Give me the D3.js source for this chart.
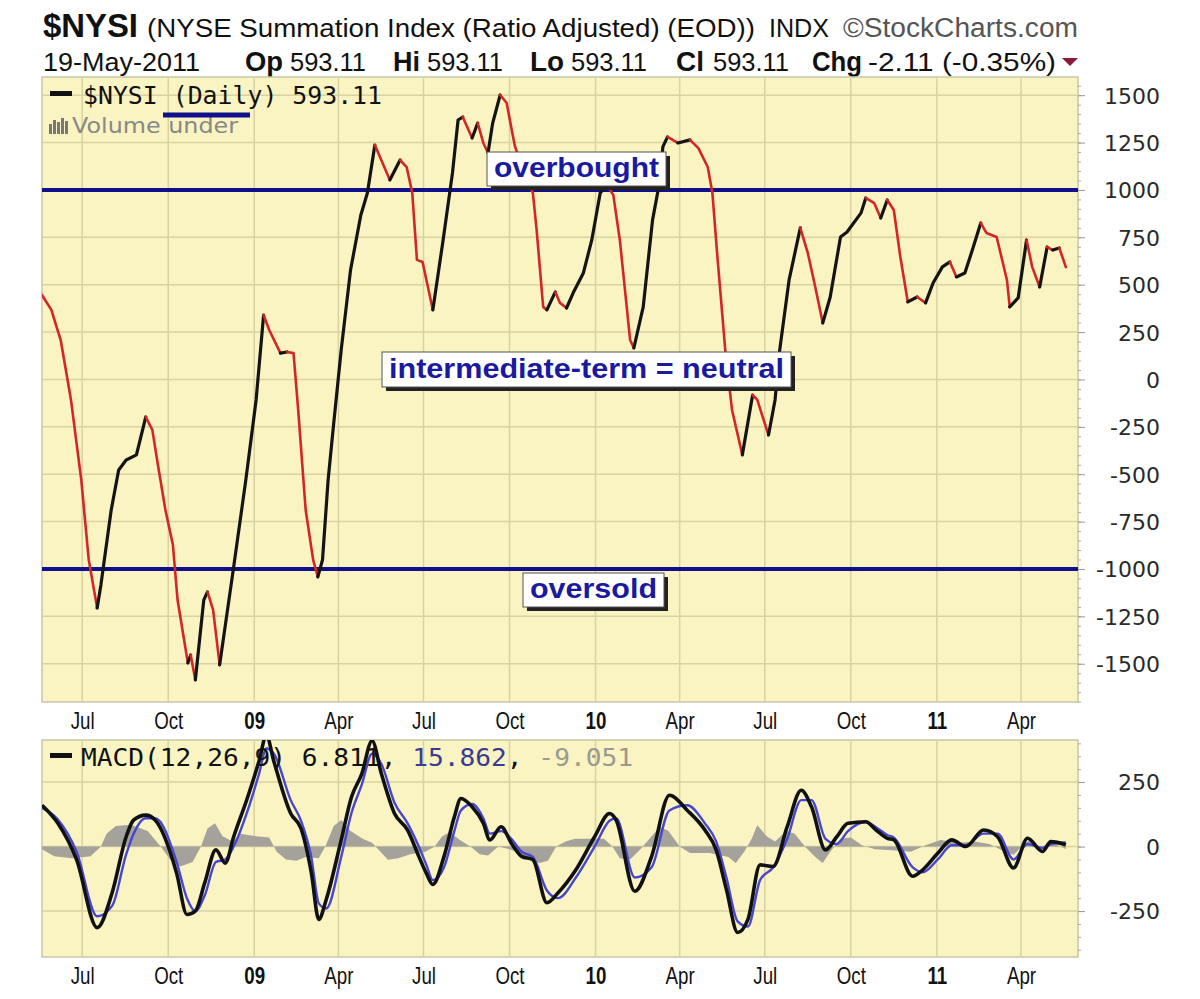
<!DOCTYPE html>
<html lang="en">
<head>
<meta charset="UTF-8" />
<title>$NYSI - NYSE Summation Index</title>
<script src="https://cdn.jsdelivr.net/npm/d3@7"></script>
<style>
  body { margin: 0; background: #fff; }
  svg { display: block; }
</style>
</head>
<body>
<div id="chart"></div>
<script>
// $NYSI daily values
const nysiDates = [
  "2008-05-19","2008-05-29","2008-06-08","2008-06-19","2008-06-30","2008-07-08","2008-07-17","2008-07-21",
  "2008-08-01","2008-08-09","2008-08-17","2008-08-28","2008-09-07","2008-09-14","2008-09-20","2008-09-28",
  "2008-10-06","2008-10-11","2008-10-22","2008-10-25","2008-10-30","2008-11-08","2008-11-12","2008-11-18",
  "2008-11-25","2008-12-10","2008-12-23","2009-01-03","2009-01-11","2009-01-17","2009-01-29","2009-02-05",
  "2009-02-12","2009-02-17","2009-02-25","2009-03-05","2009-03-10","2009-03-15","2009-03-21","2009-03-27",
  "2009-04-04","2009-04-14","2009-04-25","2009-05-02","2009-05-10","2009-05-26","2009-06-06","2009-06-13",
  "2009-06-19","2009-06-24","2009-06-30","2009-07-11","2009-07-22","2009-08-01","2009-08-07","2009-08-12",
  "2009-08-22","2009-08-28","2009-09-03","2009-09-08","2009-09-13","2009-09-21","2009-09-28","2009-10-04",
  "2009-10-07","2009-10-16","2009-10-26","2009-10-30","2009-11-06","2009-11-10","2009-11-19","2009-11-24",
  "2009-12-01","2009-12-08","2009-12-19","2009-12-28","2010-01-06","2010-01-13","2010-01-20","2010-01-27",
  "2010-02-07","2010-02-11","2010-02-21","2010-03-03","2010-03-11","2010-03-14","2010-03-19","2010-03-30",
  "2010-04-12","2010-04-21","2010-05-01","2010-05-06","2010-05-11","2010-05-20","2010-05-27","2010-06-07",
  "2010-06-18","2010-06-23","2010-07-05","2010-07-12","2010-07-17","2010-07-27","2010-08-08","2010-08-16",
  "2010-08-24","2010-09-01","2010-09-09","2010-09-20","2010-09-27","2010-10-12","2010-10-17","2010-10-26",
  "2010-11-02","2010-11-09","2010-11-16","2010-11-23","2010-12-01","2010-12-11","2010-12-20","2010-12-28",
  "2011-01-07","2011-01-15","2011-01-22","2011-01-31","2011-02-08","2011-02-17","2011-02-23","2011-03-06",
  "2011-03-17","2011-03-20","2011-03-29","2011-04-07","2011-04-13","2011-04-21","2011-04-29","2011-05-05",
  "2011-05-12","2011-05-19"
];
const nysiValues = [
  446, 367, 208, -108, -530, -952, -1206, -1084,
  -689, -478, -425, -398, -198, -266, -451, -689,
  -873, -1164, -1496, -1454, -1586, -1164, -1121, -1216,
  -1506, -989, -530, -108, 340, 261, 139, 145,
  139, -161, -689, -952, -1042, -952, -530, -230,
  156, 578, 868, 984, 1237, 1053, 1158, 1121,
  984, 631, 620, 367, 736, 1090, 1369, 1385,
  1274, 1353, 1248, 1195, 1353, 1501, 1459, 1300,
  1227, 1105, 984, 789, 383, 367, 462, 404,
  377, 456, 562, 736, 984, 1026, 974, 736,
  208, 166, 383, 842, 1053, 1227, 1280, 1248,
  1264, 1221, 1121, 984, 668, 140, -161, -398,
  -82, -108, -293, -108, 156, 525, 800, 668,
  488, 298, 435, 752, 778, 879, 958, 931,
  852, 947, 894, 646, 409, 435, 404, 509,
  594, 620, 541, 562, 683, 826, 773, 752,
  525, 383, 430, 736, 594, 488, 699, 683,
  694, 593
];

// MACD(12,26,9): macd line and signal line, same dates
const macdDates = [
  "2008-05-19","2008-06-05","2008-06-25","2008-07-17","2008-08-02","2008-08-17","2008-08-25","2008-09-07",
  "2008-09-17","2008-10-10","2008-10-21","2008-10-30","2008-11-09","2008-11-21","2008-12-01","2008-12-10",
  "2008-12-25","2009-01-06","2009-01-14","2009-01-22","2009-02-09","2009-02-20","2009-03-03","2009-03-11",
  "2009-03-19","2009-04-04","2009-04-15","2009-04-26","2009-05-07","2009-05-17","2009-05-31","2009-06-14",
  "2009-06-26","2009-07-04","2009-07-11","2009-07-23","2009-08-03","2009-08-10","2009-08-22","2009-09-03",
  "2009-09-10","2009-09-22","2009-10-03","2009-10-14","2009-10-26","2009-11-10","2009-11-22","2009-12-11",
  "2009-12-31","2010-01-16","2010-01-23","2010-02-12","2010-03-02","2010-03-21","2010-04-09","2010-04-28",
  "2010-05-10","2010-05-21","2010-06-02","2010-06-13","2010-06-26","2010-07-10","2010-07-25","2010-08-09",
  "2010-08-20","2010-09-04","2010-09-16","2010-09-28","2010-10-17","2010-10-28","2010-11-09","2010-11-16",
  "2010-12-06","2010-12-17","2011-01-02","2011-01-17","2011-02-01","2011-02-20","2011-03-07","2011-03-24",
  "2011-04-08","2011-04-24","2011-05-03","2011-05-19"
];
const macdValues = [
  160, 90, -51, -314, -179, 38, 103, 122,
  103, -103, -263, -250, -141, -13, -64, 38,
  192, 330, 430, 330, 128, 70, -100, -282,
  -205, 26, 192, 282, 410, 282, 128, 64,
  -38, -103, -147, -38, 115, 186, 154, 90,
  26, 77, 13, -38, -51, -218, -179, -90,
  38, 128, 103, -173, -38, 199, 141, 64,
  -13, -167, -333, -282, -71, -77, 77, 218,
  154, -13, 38, 90, 96, 64, 32, 26,
  -115, -90, -26, 26, 0, 64, 38, -83,
  32, -19, 19, 7
];
const signalValues = [
  150, 105, -20, -270, -230, -30, 50, 110,
  110, -60, -200, -250, -190, -60, -50, 0,
  140, 280, 380, 360, 180, 100, -40, -220,
  -240, -40, 130, 240, 360, 320, 170, 90,
  0, -70, -130, -80, 60, 140, 165, 110,
  50, 60, 30, -20, -40, -170, -200, -120,
  0, 100, 110, -120, -80, 140, 160, 90,
  20, -120, -290, -310, -130, -80, 30, 180,
  180, 30, 10, 60, 95, 75, 45, 35,
  -80, -100, -50, 5, 5, 50, 50, -50,
  10, -5, 10, 16
];

// MACD histogram (grey area)
const histDates = [
  "2008-05-19","2008-06-01","2008-06-20","2008-07-10","2008-07-21","2008-07-27","2008-08-06","2008-08-22",
  "2008-09-09","2008-09-23","2008-10-03","2008-10-14","2008-10-27","2008-11-05","2008-11-12","2008-11-20",
  "2008-11-28","2008-12-09","2008-12-17","2009-01-03","2009-01-17","2009-01-25","2009-02-04","2009-02-15",
  "2009-02-25","2009-03-11","2009-03-18","2009-03-27","2009-04-04","2009-04-14","2009-04-27","2009-05-07",
  "2009-05-16","2009-05-24","2009-06-04","2009-06-17","2009-07-03","2009-07-13","2009-07-21","2009-07-29",
  "2009-08-09","2009-08-22","2009-08-30","2009-09-08","2009-09-19","2009-10-01","2009-10-12","2009-10-23",
  "2009-11-02","2009-11-11","2009-11-20","2009-11-30","2009-12-10","2009-12-26","2010-01-10","2010-01-19",
  "2010-01-27","2010-02-07","2010-02-18","2010-03-02","2010-03-11","2010-03-20","2010-04-01","2010-04-12",
  "2010-05-03","2010-05-23","2010-05-31","2010-06-09","2010-06-17","2010-06-23","2010-07-03","2010-07-12",
  "2010-07-24","2010-08-02","2010-08-13","2010-08-24","2010-09-01","2010-09-09","2010-09-20","2010-10-01",
  "2010-10-13","2010-10-27","2010-11-18","2010-12-04","2010-12-20","2011-01-05","2011-01-26","2011-02-10",
  "2011-02-26","2011-03-15","2011-03-24","2011-04-02","2011-04-10","2011-04-23","2011-05-04","2011-05-19"
];
const histValues = [
  -10, -38, -45, -38, 0, 50, 80, 85,
  60, 0, -50, -77, -60, 0, 70, 90,
  40, 20, 50, 40, 35, -20, -50, -55,
  -40, -45, 0, 80, 103, 60, 30, 15,
  -20, -51, -45, -30, -20, 0, 40, 55,
  25, -5, -30, -35, 0, -10, -25, -50,
  -64, -55, 0, 20, 30, 30, 30, 0,
  -45, -50, -10, 40, 77, 60, 0, -25,
  -25, -40, -64, -20, 30, 83, 40, 20,
  60, 50, 0, -40, -64, -20, 30, 35,
  5, -10, -15, -20, 5, 25, 15, 20,
  10, -20, -32, 0, 25, -10, 15, -9
];

// axis labels
const xTickDates = ["2008-07-01","2008-10-01","2009-01-01","2009-04-01","2009-07-01","2009-10-01",
  "2010-01-01","2010-04-01","2010-07-01","2010-10-01","2011-01-01","2011-04-01"];
const xTickLabels = ["Jul","Oct","09","Apr","Jul","Oct","10","Apr","Jul","Oct","11","Apr"];
const mainTicks = [1500, 1250, 1000, 750, 500, 250, 0, -250, -500, -750, -1000, -1250, -1500];
const macdTicks = [250, 0, -250];
const levels = [1000, -1000];

const parse = d3.timeParse("%Y-%m-%d");

const W = 1200, H = 999;
const left = 42, right = 1078;
const mainTop = 77, mainBottom = 702;
const macdTop = 740, macdBottom = 957;

const svg = d3.select("#chart").append("svg")
  .attr("width", W).attr("height", H)
  .style("font-family", "'Liberation Sans', Arial, sans-serif");

const x = d3.scaleTime()
  .domain([parse("2008-05-19"), parse("2011-06-01")])
  .range([left, right]);
const yMain = d3.scaleLinear().domain([-1702, 1596]).range([mainBottom, mainTop]);
const yMacd = d3.scaleLinear().domain([-428, 413]).range([macdBottom, macdTop]);

const panelFill = "#f9f4c2", gridColor = "#d9d2a2";

// --- header ---
const hdr = svg.append("g").attr("fill", "#111");
hdr.append("text").attr("x", 43).attr("y", 37)
  .attr("font-size", 33).attr("font-weight", "bold").attr("textLength", 95).attr("lengthAdjust", "spacingAndGlyphs")
  .text("$NYSI");
hdr.append("text").attr("x", 147).attr("y", 37)
  .attr("font-size", 26).attr("textLength", 608).attr("lengthAdjust", "spacingAndGlyphs")
  .text("(NYSE Summation Index (Ratio Adjusted) (EOD))");
hdr.append("text").attr("x", 769).attr("y", 37)
  .attr("font-size", 25).attr("textLength", 60).attr("lengthAdjust", "spacingAndGlyphs")
  .text("INDX");
hdr.append("text").attr("x", 843).attr("y", 37).attr("fill", "#555")
  .attr("font-size", 27).attr("textLength", 235).attr("lengthAdjust", "spacingAndGlyphs")
  .text("\u00A9StockCharts.com");

const line2 = [
  {t: "19-May-2011", x: 43, w: 157, b: false},
  {t: "Op", x: 245, w: 38, b: true},
  {t: "593.11", x: 290, w: 76, b: false},
  {t: "Hi", x: 393, w: 27, b: true},
  {t: "593.11", x: 427, w: 76, b: false},
  {t: "Lo", x: 530, w: 34, b: true},
  {t: "593.11", x: 571, w: 76, b: false},
  {t: "Cl", x: 676, w: 28, b: true},
  {t: "593.11", x: 713, w: 76, b: false},
  {t: "Chg", x: 812, w: 50, b: true},
  {t: "-2.11 (-0.35%)", x: 868, w: 188, b: false}
];
hdr.selectAll("text.l2").data(line2).join("text")
  .attr("class", "l2")
  .attr("x", d => d.x).attr("y", 71)
  .attr("font-size", d => d.b ? 27 : 25)
  .attr("font-weight", d => d.b ? "bold" : "normal")
  .attr("textLength", d => d.w).attr("lengthAdjust", "spacingAndGlyphs")
  .text(d => d.t);
svg.append("path").attr("d", "M1062,58 L1078,58 L1070,66 Z").attr("fill", "#8a1a3a");

// --- panels ---
function panel(top, bottom, ticks, yScale, clipId) {
  const g = svg.append("g");
  g.append("rect").attr("x", left).attr("y", top).attr("width", right - left).attr("height", bottom - top)
    .attr("fill", panelFill).attr("stroke", "#c9c6a8").attr("stroke-width", 1.5);
  g.selectAll("line.hg").data(ticks).join("line").attr("class", "hg")
    .attr("x1", left).attr("x2", right)
    .attr("y1", d => yScale(d)).attr("y2", d => yScale(d))
    .attr("stroke", gridColor).attr("stroke-width", 1.5);
  g.selectAll("line.vg").data(xTickDates).join("line").attr("class", "vg")
    .attr("x1", d => x(parse(d))).attr("x2", d => x(parse(d)))
    .attr("y1", top).attr("y2", bottom)
    .attr("stroke", gridColor).attr("stroke-width", 1.5);
  svg.append("clipPath").attr("id", clipId).append("rect")
    .attr("x", left).attr("y", top).attr("width", right - left).attr("height", bottom - top);
  // right axis
  const minor = d3.range(Math.ceil(yScale.domain()[0] / 50) * 50, yScale.domain()[1], 50);
  svg.append("g").attr("transform", `translate(${right},0)`)
    .call(d3.axisRight(yScale).tickValues(minor).tickSize(3).tickFormat(""))
    .call(a => a.select(".domain").remove())
    .call(a => a.selectAll("line").attr("stroke", "#aaa"));
  svg.append("g").attr("transform", `translate(${right},0)`)
    .call(d3.axisRight(yScale).tickValues(ticks).tickSize(7).tickFormat(d => String(d)))
    .call(a => a.select(".domain").remove())
    .call(a => a.selectAll("line").attr("stroke", "#999"))
    .call(a => a.selectAll("text")
      .attr("x", 82).attr("text-anchor", "end").attr("dy", "0.36em")
      .attr("fill", "#2a2a2a").attr("font-size", 22)
      .style("font-family", "'DejaVu Sans', Verdana, sans-serif"));
  // bottom labels, condensed like the original
  svg.append("g").attr("transform", `translate(0,${bottom})`)
    .call(d3.axisBottom(x).tickValues(xTickDates.map(parse)).tickSize(0)
      .tickFormat((d, i) => xTickLabels[i]))
    .call(a => a.select(".domain").remove())
    .call(a => a.selectAll("text")
      .attr("y", 27).attr("dy", 0).attr("fill", "#111")
      .attr("font-size", 24)
      .attr("font-weight", (d, i) => /\d/.test(xTickLabels[i]) ? "bold" : "normal")
      .style("font-family", "'Liberation Sans', Arial, sans-serif")
      .each(function () {
        const w = this.getComputedTextLength();
        d3.select(this).attr("textLength", w * 0.78).attr("lengthAdjust", "spacingAndGlyphs");
      }));
  return g;
}

panel(mainTop, mainBottom, mainTicks, yMain, "clipMain");
panel(macdTop, macdBottom, macdTicks, yMacd, "clipMacd");

// --- main series ---
const nysi = nysiDates.map((d, i) => ({date: parse(d), value: nysiValues[i]}));
const mainLine = d3.line().x(d => x(d.date)).y(d => yMain(d.value));

// overbought / oversold levels
svg.append("g").selectAll("line").data(levels).join("line")
  .attr("x1", left).attr("x2", right)
  .attr("y1", d => yMain(d)).attr("y2", d => yMain(d))
  .attr("stroke", "#10108c").attr("stroke-width", 4);

// split into rising (black) and falling (red) runs
const runs = [];
for (let i = 1; i < nysi.length; i++) {
  const up = nysi[i].value >= nysi[i - 1].value;
  const last = runs[runs.length - 1];
  if (last && last.up === up) last.pts.push(nysi[i]);
  else runs.push({up: up, pts: [nysi[i - 1], nysi[i]]});
}
const mainG = svg.append("g").attr("clip-path", "url(#clipMain)");
mainG.selectAll("path").data(runs).join("path")
  .attr("d", d => mainLine(d.pts))
  .attr("fill", "none")
  .attr("stroke", d => d.up ? "#141414" : "#d42626")
  .attr("stroke-width", d => d.up ? 3.2 : 2.6)
  .attr("stroke-linejoin", "round").attr("stroke-linecap", "round");

// legend
svg.append("rect").attr("x", 50).attr("y", 91).attr("width", 22).attr("height", 5).attr("fill", "#111");
svg.append("text").attr("x", 83).attr("y", 104)
  .attr("font-size", 24).attr("fill", "#111")
  .attr("textLength", 299).attr("lengthAdjust", "spacingAndGlyphs")
  .style("font-family", "'DejaVu Sans Mono', 'Liberation Mono', monospace")
  .text("$NYSI (Daily) 593.11");
const vi = svg.append("g").attr("fill", "#777");
[[49, 124, 10], [53, 120, 14], [57, 122, 12], [61, 118, 16], [65, 121, 13]].forEach(b => {
  vi.append("rect").attr("x", b[0]).attr("y", b[1]).attr("width", 3).attr("height", b[2]);
});
svg.append("text").attr("x", 72).attr("y", 133)
  .attr("font-size", 22).attr("fill", "#888")
  .attr("textLength", 166).attr("lengthAdjust", "spacingAndGlyphs")
  .style("font-family", "'DejaVu Sans', Verdana, sans-serif")
  .text("Volume under");
svg.append("line").attr("x1", 163).attr("x2", 250).attr("y1", 115).attr("y2", 115)
  .attr("stroke", "#10108c").attr("stroke-width", 5);

// annotation boxes
const notes = [
  {t: "overbought", x: 487, y: 152, w: 179, h: 34},
  {t: "intermediate-term = neutral", x: 382, y: 352, w: 409, h: 35},
  {t: "oversold", x: 523, y: 573, w: 141, h: 34}
];
const ng = svg.append("g").selectAll("g").data(notes).join("g");
ng.append("rect").attr("x", d => d.x + 4).attr("y", d => d.y + 4).attr("width", d => d.w).attr("height", d => d.h)
  .attr("fill", "#222");
ng.append("rect").attr("x", d => d.x).attr("y", d => d.y).attr("width", d => d.w).attr("height", d => d.h)
  .attr("fill", "#fff").attr("stroke", "#555").attr("stroke-width", 1);
ng.append("text").attr("x", d => d.x + d.w / 2).attr("y", d => d.y + d.h - 9)
  .attr("text-anchor", "middle").attr("font-size", 28).attr("font-weight", "bold")
  .attr("fill", "#1a1aa0")
  .attr("textLength", d => d.w - 14).attr("lengthAdjust", "spacingAndGlyphs")
  .text(d => d.t);

// --- MACD panel ---
const macd = macdDates.map((d, i) => ({date: parse(d), macd: macdValues[i], signal: signalValues[i]}));
const hist = histDates.map((d, i) => ({date: parse(d), value: histValues[i]}));
const mg = svg.append("g").attr("clip-path", "url(#clipMacd)");
mg.append("path").datum(hist)
  .attr("d", d3.area().x(d => x(d.date)).y0(yMacd(0)).y1(d => yMacd(d.value)))
  .attr("fill", "#a4a29a");
mg.append("path").datum(macd)
  .attr("d", d3.line().x(d => x(d.date)).y(d => yMacd(d.signal)).curve(d3.curveMonotoneX))
  .attr("fill", "none").attr("stroke", "#4646d2").attr("stroke-width", 2.4);
mg.append("path").datum(macd)
  .attr("d", d3.line().x(d => x(d.date)).y(d => yMacd(d.macd)).curve(d3.curveMonotoneX))
  .attr("fill", "none").attr("stroke", "#111").attr("stroke-width", 3.6)
  .attr("stroke-linejoin", "round");

svg.append("rect").attr("x", 50).attr("y", 753).attr("width", 22).attr("height", 5).attr("fill", "#111");
const ml = svg.append("text").attr("x", 81).attr("y", 766)
  .attr("font-size", 24)
  .style("font-family", "'DejaVu Sans Mono', 'Liberation Mono', monospace");
ml.append("tspan").attr("fill", "#111").text("MACD(12,26,9) 6.811, ");
ml.append("tspan").attr("fill", "#3a3a96").text("15.862");
ml.append("tspan").attr("fill", "#111").text(", ");
ml.append("tspan").attr("fill", "#9a9a90").text("-9.051");
ml.attr("textLength", 552).attr("lengthAdjust", "spacingAndGlyphs");
</script>
</body>
</html>
